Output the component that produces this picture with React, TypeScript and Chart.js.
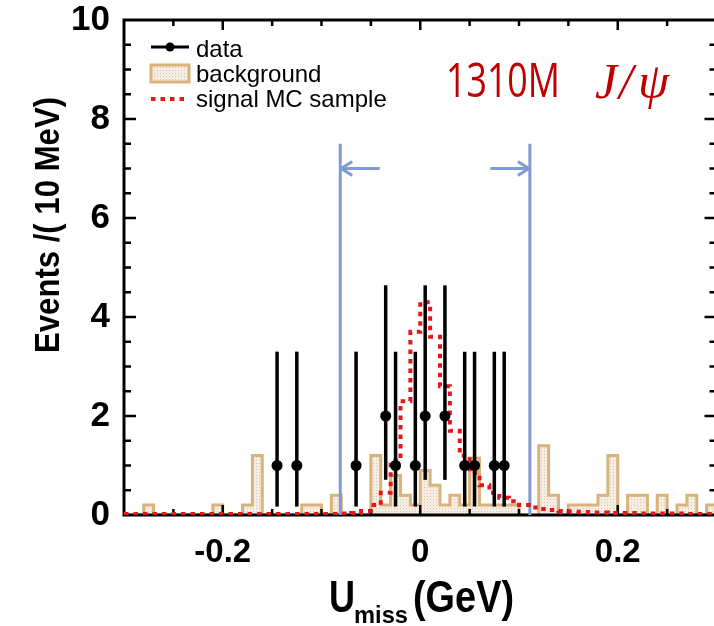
import React, { useEffect, useRef } from "react";
import { Chart, registerables } from "chart.js";

Chart.register(...registerables);

// ---------- data ----------
const binLow = [
  -0.30, -0.29, -0.28, -0.27, -0.26, -0.25, -0.24, -0.23, -0.22, -0.21,
  -0.20, -0.19, -0.18, -0.17, -0.16, -0.15, -0.14, -0.13, -0.12, -0.11,
  -0.10, -0.09, -0.08, -0.07, -0.06, -0.05, -0.04, -0.03, -0.02, -0.01,
  0.00, 0.01, 0.02, 0.03, 0.04, 0.05, 0.06, 0.07, 0.08, 0.09,
  0.10, 0.11, 0.12, 0.13, 0.14, 0.15, 0.16, 0.17, 0.18, 0.19,
  0.20, 0.21, 0.22, 0.23, 0.24, 0.25, 0.26, 0.27, 0.28, 0.29,
];
const lastBinUpper = 0.30;

const backgroundValues = [
  0, 0, 0.2, 0, 0, 0, 0, 0, 0, 0.2,
  0, 0, 0.2, 1.2, 0, 0, 0, 0, 0.2, 0.2,
  0, 0.4, 0, 0, 0, 1.2, 0.2, 0.8, 0.4, 0.2,
  0.9, 0.6, 0.2, 0.4, 0.2, 1.15, 0.2, 0.2, 0.2, 0.2,
  0, 0, 1.4, 0.4, 0, 0.2, 0.2, 0.2, 0.4, 1.2,
  0, 0.4, 0.4, 0, 0.4, 0, 0.2, 0.4, 0, 0.2,
];

const signalValues = [
  0.02, 0.02, 0.02, 0.02, 0.02, 0.02, 0.02, 0.02, 0.02, 0.02,
  0.02, 0.02, 0.02, 0.02, 0.02, 0.02, 0.02, 0.02, 0.02, 0.02,
  0.02, 0.02, 0.03, 0.04, 0.08, 0.2, 0.45, 1.1, 2.3, 3.7,
  4.3, 3.6, 2.6, 1.7, 1.2, 0.85, 0.6, 0.45, 0.35, 0.28,
  0.2, 0.15, 0.12, 0.1, 0.08, 0.07, 0.06, 0.05, 0.05, 0.04,
  0.04, 0.04, 0.03, 0.03, 0.03, 0.03, 0.03, 0.02, 0.02, 0.02,
];

const dataX = [-0.145, -0.125, -0.065, -0.035, -0.025, -0.005, 0.005, 0.025, 0.045, 0.055, 0.075, 0.085];
const dataY = [1, 1, 1, 2, 1, 1, 2, 2, 1, 1, 1, 1];
const dataErrLow = [0.17, 0.17, 0.17, 0.71, 0.17, 0.17, 0.71, 0.71, 0.17, 0.17, 0.17, 0.17];
const dataErrHigh = [3.3, 3.3, 3.3, 4.64, 3.3, 3.3, 4.64, 4.64, 3.3, 3.3, 3.3, 3.3];

const xTickLabels = [-0.2, 0, 0.2];
const yTickLabels = [0, 2, 4, 6, 8, 10];
const xTickMarks = [-0.25, -0.2, -0.15, -0.1, -0.05, 0, 0.05, 0.1, 0.15, 0.2, 0.25];
const yTickMarks = [0.5, 1, 1.5, 2, 2.5, 3, 3.5, 4, 4.5, 5, 5.5, 6, 6.5, 7, 7.5, 8, 8.5, 9, 9.5];

const cutLow = -0.081;
const cutHigh = 0.111;
const cutTop = 7.5;
const arrowLevel = 7.0;
const arrowLength = 0.04;

const legendLabels = ["data", "background", "signal MC sample"];
const sampleLabel = "1310M";

// ---------- styles ----------
const FONT = '"Liberation Sans", Arial, Helvetica, sans-serif';
const TAN = "#d9b27c";
const BLUE = "#7f9ad6";
const RED = "#e3161c";
const DARKRED = "#c00000";

function makePattern(): CanvasPattern | string {
  const c = document.createElement("canvas");
  c.width = 3;
  c.height = 3;
  const g = c.getContext("2d");
  if (!g) return "#f5ece0";
  g.fillStyle = "#f7eee3";
  g.fillRect(0, 0, 3, 3);
  g.fillStyle = "#d8c5ae";
  g.fillRect(1, 1, 1, 1);
  const p = g.createPattern(c, "repeat");
  return p || "#f5ece0";
}

const BG_INDEX = 2;
const DATA_INDEX = 0;

function fitText(ctx: CanvasRenderingContext2D, text: string, x: number, y: number, width: number, vScale = 1) {
  const w = ctx.measureText(text).width;
  ctx.save();
  ctx.translate(x, y);
  ctx.scale(width / w, vScale);
  ctx.fillText(text, 0, 0);
  ctx.restore();
}

const decorPlugin = {
  id: "decor",
  beforeDatasetDraw(chart: any, args: any) {
    if (args.index !== DATA_INDEX) return;
    const { ctx, scales } = chart;
    const x = scales.x;
    const y = scales.y;
    ctx.save();
    ctx.strokeStyle = "#000";
    ctx.lineWidth = 3.5;
    for (let i = 0; i < dataX.length; i++) {
      const px = x.getPixelForValue(dataX[i]);
      ctx.beginPath();
      ctx.moveTo(px, y.getPixelForValue(dataErrLow[i]));
      ctx.lineTo(px, y.getPixelForValue(dataErrHigh[i]));
      ctx.stroke();
    }
    ctx.restore();
  },
  afterDatasetDraw(chart: any, args: any) {
    if (args.index !== BG_INDEX) return;
    const { ctx, chartArea: a, scales } = chart;
    const x = scales.x;
    const y = scales.y;
    ctx.save();
    // frame
    ctx.strokeStyle = "#000";
    ctx.lineWidth = 3;
    ctx.strokeRect(a.left, a.top, a.right - a.left, a.bottom - a.top);
    ctx.lineWidth = 2.5;
    ctx.beginPath();
    for (const v of xTickMarks) {
      const px = x.getPixelForValue(v);
      const len = xTickLabels.some((t) => Math.abs(t - v) < 1e-9) ? 10 : 6;
      ctx.moveTo(px, a.bottom);
      ctx.lineTo(px, a.bottom - len);
      ctx.moveTo(px, a.top);
      ctx.lineTo(px, a.top + len);
    }
    for (const v of yTickMarks) {
      const py = y.getPixelForValue(v);
      const len = yTickLabels.some((t) => Math.abs(t - v) < 1e-9) ? 12 : 7;
      ctx.moveTo(a.left, py);
      ctx.lineTo(a.left + len, py);
      ctx.moveTo(a.right, py);
      ctx.lineTo(a.right - len, py);
    }
    ctx.stroke();

    // cut lines with arrows
    ctx.strokeStyle = BLUE;
    ctx.lineWidth = 3;
    const y0 = y.getPixelForValue(0);
    const yTop = y.getPixelForValue(cutTop);
    const yA = y.getPixelForValue(arrowLevel);
    const xl = x.getPixelForValue(cutLow);
    const xh = x.getPixelForValue(cutHigh);
    ctx.beginPath();
    ctx.moveTo(xl, y0);
    ctx.lineTo(xl, yTop);
    ctx.moveTo(xh, y0);
    ctx.lineTo(xh, yTop);
    const xlStart = x.getPixelForValue(cutLow + arrowLength);
    ctx.moveTo(xlStart, yA);
    ctx.lineTo(xl + 1, yA);
    ctx.moveTo(xl + 12, yA - 7);
    ctx.lineTo(xl + 1, yA);
    ctx.lineTo(xl + 12, yA + 7);
    const xhStart = x.getPixelForValue(cutHigh - arrowLength);
    ctx.moveTo(xhStart, yA);
    ctx.lineTo(xh - 1, yA);
    ctx.moveTo(xh - 12, yA - 7);
    ctx.lineTo(xh - 1, yA);
    ctx.lineTo(xh - 12, yA + 7);
    ctx.stroke();
    ctx.restore();
  },
  afterDraw(chart: any) {
    const { ctx } = chart;
    ctx.save();
    // legend
    const lx0 = 151;
    const lx1 = 189;
    ctx.strokeStyle = "#000";
    ctx.lineWidth = 3;
    ctx.beginPath();
    ctx.moveTo(lx0, 47);
    ctx.lineTo(lx1, 47);
    ctx.stroke();
    ctx.fillStyle = "#000";
    ctx.beginPath();
    ctx.arc((lx0 + lx1) / 2, 47, 4.5, 0, Math.PI * 2);
    ctx.fill();

    ctx.fillStyle = makePattern();
    ctx.fillRect(lx0, 65, lx1 - lx0, 17);
    ctx.strokeStyle = TAN;
    ctx.lineWidth = 3;
    ctx.strokeRect(lx0, 65, lx1 - lx0, 17);

    ctx.strokeStyle = RED;
    ctx.lineWidth = 4;
    ctx.setLineDash([4.5, 5]);
    ctx.beginPath();
    ctx.moveTo(lx0, 99);
    ctx.lineTo(lx1, 99);
    ctx.stroke();
    ctx.setLineDash([]);

    ctx.fillStyle = "#000";
    ctx.font = `24px ${FONT}`;
    ctx.textAlign = "left";
    ctx.textBaseline = "alphabetic";
    ctx.fillText(legendLabels[0], 196, 57);
    ctx.fillText(legendLabels[1], 196, 82);
    ctx.fillText(legendLabels[2], 196, 107);

    // sample label
    ctx.fillStyle = DARKRED;
    ctx.font = `400 47px "Open Sans", Lato, sans-serif`;
    fitText(ctx, sampleLabel, 446, 97, 114);
    ctx.font = `italic 50px "Liberation Serif", "DejaVu Serif", serif`;
    ctx.fillText("J", 595, 98);
    ctx.fillText("/", 619, 98);
    ctx.fillText("\u03C8", 638, 98);

    // y title
    ctx.fillStyle = "#000";
    ctx.save();
    ctx.translate(59, 225);
    ctx.rotate(-Math.PI / 2);
    ctx.font = `bold 35px ${FONT}`;
    ctx.textAlign = "left";
    ctx.textBaseline = "alphabetic";
    fitText(ctx, "Events /( 10 MeV)", -128, 0, 256);
    ctx.restore();

    // x title
    ctx.textAlign = "left";
    ctx.textBaseline = "alphabetic";
    ctx.font = `bold 40px ${FONT}`;
    fitText(ctx, "U", 329, 612, 26, 1.12);
    ctx.font = `bold 22px ${FONT}`;
    fitText(ctx, "miss", 354, 623, 54, 1.12);
    ctx.font = `bold 40px ${FONT}`;
    fitText(ctx, "(GeV)", 413, 612, 101, 1.12);
    ctx.restore();
  },
};

export default function App() {
  const ref = useRef<HTMLCanvasElement | null>(null);
  useEffect(() => {
    if (!ref.current) return;
    const pattern = makePattern();
    const stepPoints = (vals: number[]) => {
      const pts = binLow.map((b, i) => ({ x: b, y: vals[i] }));
      pts.push({ x: lastBinUpper, y: vals[vals.length - 1] });
      return pts;
    };
    const chart = new Chart(ref.current, {
      type: "line",
      data: {
        datasets: [
          {
            type: "scatter",
            label: "data",
            data: dataX.map((x, i) => ({ x, y: dataY[i] })),
            showLine: false,
            pointRadius: 5.5,
            pointBackgroundColor: "#000",
            pointBorderColor: "#000",
            pointBorderWidth: 0,
            order: 0,
          } as any,
          {
            type: "line",
            label: "signal MC sample",
            data: stepPoints(signalValues),
            stepped: true,
            borderColor: RED,
            borderWidth: 4,
            borderDash: [4.5, 5],
            pointRadius: 0,
            fill: false,
            order: 1,
          } as any,
          {
            type: "line",
            label: "background",
            data: stepPoints(backgroundValues),
            stepped: true,
            borderColor: TAN,
            borderWidth: 3,
            backgroundColor: pattern,
            pointRadius: 0,
            fill: "origin",
            order: 2,
          } as any,
        ],
      },
      options: {
        animation: false,
        responsive: false,
        devicePixelRatio: 1,
        layout: { padding: { top: 20, right: 2, left: 0, bottom: 0 } },
        plugins: { legend: { display: false }, tooltip: { enabled: false } },
        scales: {
          x: {
            type: "linear",
            min: -0.3,
            max: 0.3,
            grid: { display: false, drawTicks: false },
            border: { display: false },
            afterBuildTicks: (s: any) => {
              s.ticks = xTickLabels.map((v) => ({ value: v }));
            },
            afterFit: (s: any) => {
              s.height = 111;
              s.paddingLeft = 0;
              s.paddingRight = 0;
            },
            ticks: {
              padding: 18,
              color: "#000",
              maxRotation: 0,
              font: { family: FONT, weight: "bold", size: 33 },
              callback: (v: any) => (v === 0 ? "0" : Number(v).toFixed(1)),
            },
          },
          y: {
            type: "linear",
            min: 0,
            max: 10,
            grid: { display: false, drawTicks: false },
            border: { display: false },
            afterBuildTicks: (s: any) => {
              s.ticks = yTickLabels.map((v) => ({ value: v }));
            },
            afterFit: (s: any) => {
              s.width = 124;
              s.paddingTop = 0;
              s.paddingBottom = 0;
            },
            ticks: {
              padding: 14,
              color: "#000",
              font: { family: FONT, weight: "bold", size: 35 },
              callback: (v: any) => String(v),
            },
          },
        },
      } as any,
      plugins: [decorPlugin],
    });
    return () => chart.destroy();
  }, []);
  return (
    <div
      style={{
        position: "fixed",
        left: 0,
        top: 0,
        width: 714,
        height: 626,
        overflow: "hidden",
        background: "#fff",
      }}
    >
      <canvas ref={ref} width={722} height={626} style={{ display: "block" }} />
    </div>
  );
}
